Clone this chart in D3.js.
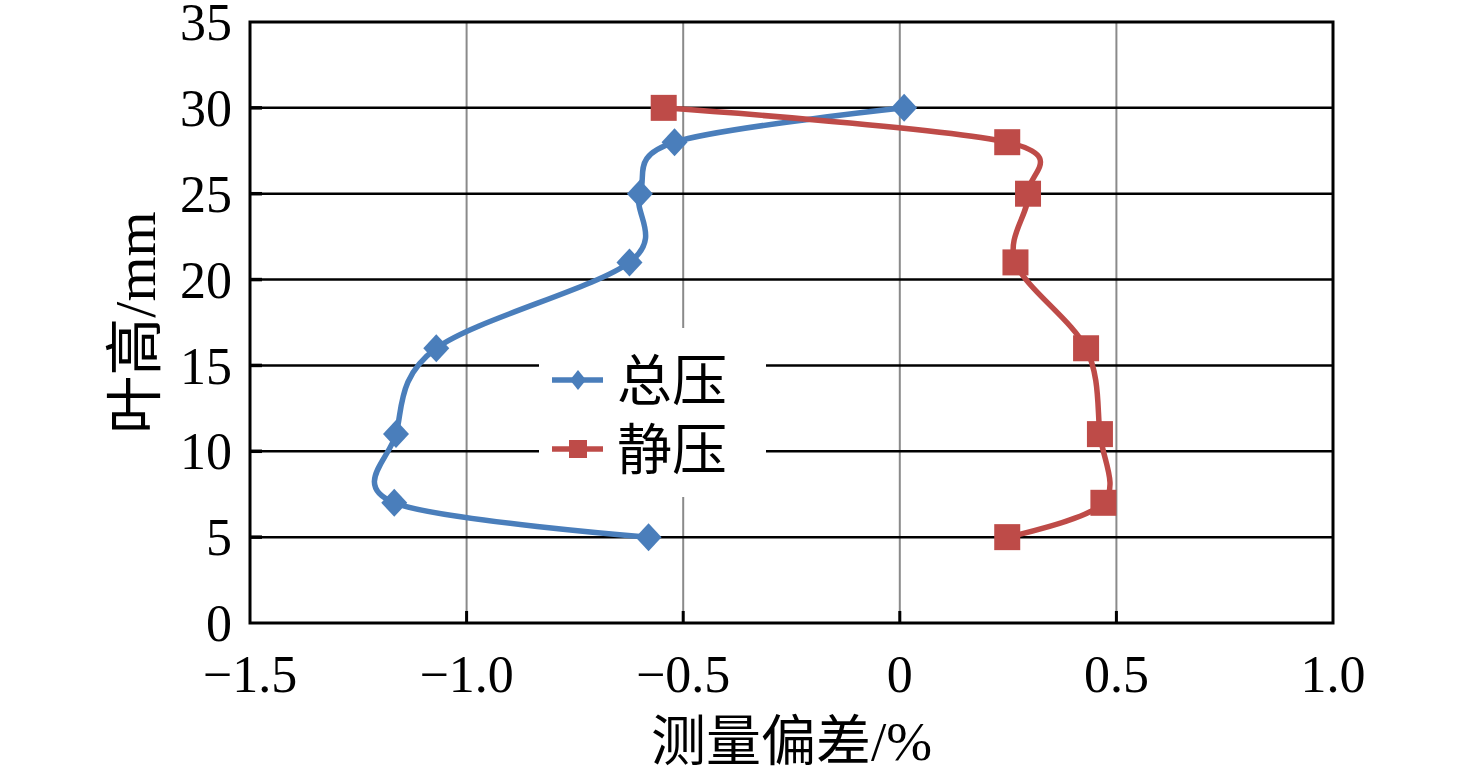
<!DOCTYPE html>
<html>
<head>
<meta charset="utf-8">
<script src="https://cdn.jsdelivr.net/npm/d3@7"></script>
<style>
body { margin: 0; background: #fff; }
text { font-family: "Liberation Serif", "Times New Roman", "Noto Sans CJK SC", serif; fill: #000; }
.cjk { font-family: "Liberation Serif", "Noto Sans CJK SC", serif; }
</style>
</head>
<body>
<svg id="chart" width="1476" height="773"></svg>
<script>
// blade height positions (mm)
var heights = [30, 28, 25, 21, 16, 11, 7, 5];
// measurement deviation (%)
var totalP = [0.01, -0.52, -0.60, -0.624, -1.07, -1.163, -1.167, -0.58];
var staticP = [-0.545, 0.248, 0.296, 0.267, 0.430, 0.462, 0.470, 0.248];
var seriesNames = ['总压', '静压'];
var xTicks = [-1.5, -1.0, -0.5, 0, 0.5, 1.0];
var xTickLabels = ['\u22121.5', '\u22121.0', '\u22120.5', '0', '0.5', '1.0'];
var yTicks = [0, 5, 10, 15, 20, 25, 30, 35];

var svg = d3.select('#chart');
var pLeft = 250, pRight = 1333, pTop = 22, pBottom = 623;

var x = d3.scaleLinear().domain([-1.5, 1.0]).range([pLeft, pRight]);
var y = d3.scaleLinear().domain([0, 35]).range([pBottom, pTop]);

// vertical grid (gray)
svg.append('g').selectAll('line')
	.data(xTicks.slice(1, -1))
	.enter().append('line')
	.attr('x1', function(d) { return x(d); }).attr('x2', function(d) { return x(d); })
	.attr('y1', pTop).attr('y2', pBottom)
	.attr('stroke', '#8a8a8a').attr('stroke-width', 2);

// horizontal grid (black)
svg.append('g').selectAll('line')
	.data(yTicks.slice(1, -1))
	.enter().append('line')
	.attr('x1', pLeft).attr('x2', pRight)
	.attr('y1', function(d) { return y(d); }).attr('y2', function(d) { return y(d); })
	.attr('stroke', '#000').attr('stroke-width', 2.5);

// small tick marks on both axes
svg.append('g').selectAll('line')
	.data(xTicks.slice(1, -1))
	.enter().append('line')
	.attr('x1', function(d) { return x(d); }).attr('x2', function(d) { return x(d); })
	.attr('y1', pBottom).attr('y2', pBottom - 12)
	.attr('stroke', '#000').attr('stroke-width', 3);
svg.append('g').selectAll('line')
	.data(yTicks.slice(1, -1))
	.enter().append('line')
	.attr('x1', pLeft).attr('x2', pLeft + 12)
	.attr('y1', function(d) { return y(d); }).attr('y2', function(d) { return y(d); })
	.attr('stroke', '#000').attr('stroke-width', 3.5);

// frame
svg.append('rect')
	.attr('x', pLeft).attr('y', pTop)
	.attr('width', pRight - pLeft).attr('height', pBottom - pTop)
	.attr('fill', 'none').attr('stroke', '#000').attr('stroke-width', 3);

// tick labels
svg.append('g').selectAll('text')
	.data(yTicks)
	.enter().append('text')
	.attr('x', 232).attr('y', function(d) { return y(d); })
	.attr('dy', '0.35em')
	.attr('text-anchor', 'end')
	.style('font-size', '52px')
	.text(function(d) { return d; });

svg.append('g').selectAll('text')
	.data(xTicks)
	.enter().append('text')
	.attr('x', function(d) { return x(d); }).attr('y', 692)
	.attr('text-anchor', 'middle')
	.style('font-size', '52px')
	.text(function(d, i) { return xTickLabels[i]; });

// axis titles
svg.append('text')
	.attr('class', 'cjk')
	.attr('x', (pLeft + pRight) / 2).attr('y', 760)
	.attr('text-anchor', 'middle')
	.style('font-size', '55px')
	.text('测量偏差/%');

svg.append('text')
	.attr('class', 'cjk')
	.attr('transform', 'translate(155,' + ((pTop + pBottom) / 2) + ') rotate(-90)')
	.attr('text-anchor', 'middle')
	.style('font-size', '58px')
	.text('叶高/mm');

var line = d3.line()
	.x(function(d) { return x(d[0]); })
	.y(function(d) { return y(d[1]); })
	.curve(d3.curveCardinal.tension(0));

var colors = ['#4a7ebb', '#be4b48'];
var series = [totalP, staticP].map(function(vals) {
	return vals.map(function(v, i) { return [v, heights[i]]; });
});

// legend background drawn before the lines so the curves pass over it
svg.append('rect')
	.attr('x', 539).attr('y', 328).attr('width', 227).attr('height', 169)
	.attr('fill', '#fff');

series.forEach(function(pts, i) {
	svg.append('path')
		.datum(pts)
		.attr('d', line)
		.attr('fill', 'none')
		.attr('stroke', colors[i])
		.attr('stroke-width', 5.5);
});

// markers
svg.append('g').selectAll('path')
	.data(series[0])
	.enter().append('path')
	.attr('transform', function(d) { return 'translate(' + x(d[0]) + ',' + y(d[1]) + ')'; })
	.attr('d', 'M0,-14L13,0L0,14L-13,0Z')
	.attr('fill', colors[0]);

svg.append('g').selectAll('rect')
	.data(series[1])
	.enter().append('rect')
	.attr('x', function(d) { return x(d[0]) - 13; })
	.attr('y', function(d) { return y(d[1]) - 13; })
	.attr('width', 26).attr('height', 26)
	.attr('fill', colors[1]);

// legend
var leg = svg.append('g');
var rowY = [380, 449];
seriesNames.forEach(function(name, i) {
	leg.append('line')
		.attr('x1', 552).attr('x2', 603)
		.attr('y1', rowY[i]).attr('y2', rowY[i])
		.attr('stroke', colors[i]).attr('stroke-width', 5.5);
	if (i == 0) {
		leg.append('path')
			.attr('transform', 'translate(578,' + rowY[i] + ')')
			.attr('d', 'M0,-10L8,0L0,10L-8,0Z')
			.attr('fill', colors[i]);
	} else {
		leg.append('rect')
			.attr('x', 569).attr('y', rowY[i] - 9)
			.attr('width', 18).attr('height', 18)
			.attr('fill', colors[i]);
	}
	leg.append('text')
		.attr('class', 'cjk')
		.attr('x', 617).attr('y', rowY[i])
		.attr('dy', '0.36em')
		.style('font-size', '55px')
		.text(name);
});
</script>
</body>
</html>
